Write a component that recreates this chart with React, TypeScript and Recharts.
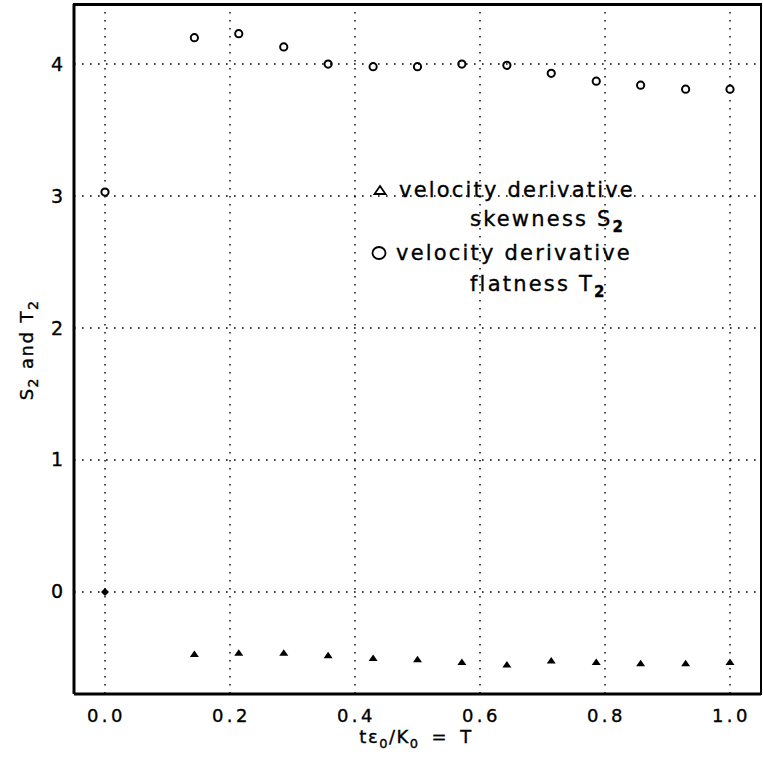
import { CartesianGrid, Scatter, ScatterChart, XAxis, YAxis } from "recharts";

// time T = t*eps0/K0
const tValues = [0, 0.143, 0.214, 0.286, 0.357, 0.429, 0.5, 0.571, 0.643, 0.714, 0.786, 0.857, 0.929, 1.0];
// velocity derivative flatness T2
const flatnessT2 = [3.03, 4.2, 4.23, 4.13, 4.0, 3.98, 3.98, 4.0, 3.99, 3.93, 3.87, 3.84, 3.81, 3.81];
// velocity derivative skewness S2
const skewnessS2 = [0, -0.47, -0.46, -0.46, -0.48, -0.5, -0.51, -0.53, -0.55, -0.52, -0.53, -0.54, -0.54, -0.53];

const xTicks = [0, 0.2, 0.4, 0.6, 0.8, 1.0];
const yTicks = [0, 1, 2, 3, 4];
const xDomain = [-0.0496, 1.0496];
const yDomain = [-0.773, 4.455];

const flatnessData = tValues.map((t, i) => ({ t, v: flatnessT2[i] }));
const skewnessData = tValues.map((t, i) => ({ t, v: skewnessS2[i] }));

const W = 763;
const H = 762;
const FONT = '"DejaVu Sans", sans-serif';
const thick = { stroke: "#000", strokeWidth: 0.35 };

function XTick({ x, y, payload }: any) {
  return (
    <text x={x + 1.5} y={y + 28} textAnchor="middle" fontSize={18} letterSpacing={3.5} fill="#000" {...thick}>
      {Number(payload.value).toFixed(1)}
    </text>
  );
}

function YTick({ x, y, payload }: any) {
  return (
    <text x={x - 11} y={y + 6.5} textAnchor="end" fontSize={19} fill="#000" {...thick}>
      {payload.value}
    </text>
  );
}

function OpenCircle({ cx, cy }: any) {
  return <circle cx={cx} cy={cy} r={3.6} fill="none" stroke="#000" strokeWidth={2} />;
}

function FilledTriangle({ cx, cy, payload }: any) {
  if (payload && payload.t === 0) {
    return <path d={`M${cx},${cy - 4}L${cx + 4},${cy}L${cx},${cy + 4}L${cx - 4},${cy}Z`} fill="#000" />;
  }
  return <path d={`M${cx},${cy - 3.5}L${cx + 4.5},${cy + 3}L${cx - 4.5},${cy + 3}Z`} fill="#000" />;
}

export default function App() {
  return (
    <div style={{ position: "absolute", left: 0, top: 0, width: W, height: H, background: "#fff", fontFamily: FONT }}>
      <ScatterChart width={W} height={H} margin={{ top: 4, right: 2, bottom: 0, left: 0 }}>
        <CartesianGrid stroke="#000" strokeWidth={1.4} strokeDasharray="1.6 6.4" />
        <XAxis
          dataKey="t"
          type="number"
          domain={xDomain}
          ticks={xTicks}
          height={68}
          tickSize={0}
          tickMargin={0}
          tickLine={false}
          tick={<XTick />}
          axisLine={{ stroke: "#000", strokeWidth: 3 }}
          allowDataOverflow
        />
        <YAxis
          dataKey="v"
          type="number"
          domain={yDomain}
          ticks={yTicks}
          width={74}
          tickSize={0}
          tickMargin={0}
          tickLine={false}
          tick={<YTick />}
          axisLine={{ stroke: "#000", strokeWidth: 3 }}
          allowDataOverflow
        />
        <Scatter data={flatnessData} shape={<OpenCircle />} isAnimationActive={false} />
        <Scatter data={skewnessData} shape={<FilledTriangle />} isAnimationActive={false} />
      </ScatterChart>

      <svg
        width={W}
        height={H}
        style={{ position: "absolute", left: 0, top: 0, pointerEvents: "none", fontFamily: FONT }}
      >
        {/* top and right frame of the plot box */}
        <line x1={73} y1={4.5} x2={762} y2={4.5} stroke="#000" strokeWidth={3} />
        <line x1={761} y1={3} x2={761} y2={695} stroke="#000" strokeWidth={2} />

        {/* axis titles */}
        <text x={416} y={743} textAnchor="middle" fontSize={18} letterSpacing={1.5} fill="#000" {...thick}>
          tε<tspan dy={5} fontSize={13}>0</tspan>
          <tspan dy={-5}>/K</tspan>
          <tspan dy={5} fontSize={13}>0</tspan>
          <tspan dy={-5} dx={12}>=</tspan>
          <tspan dx={12}>T</tspan>
        </text>
        <text
          transform="translate(33, 350) rotate(-90)"
          textAnchor="middle"
          fontSize={18}
          letterSpacing={1.5}
          fill="#000"
          {...thick}
        >
          S<tspan dy={5} fontSize={14}>2</tspan>
          <tspan dy={-5} dx={8}>and</tspan>
          <tspan dx={8}>T</tspan>
          <tspan dy={5} fontSize={14}>2</tspan>
        </text>

        {/* legend */}
        <path d="M380,186L385.5,194L374.5,194Z" fill="#fff" stroke="#000" strokeWidth={1.8} />
        <text x={399} y={197} fontSize={21} letterSpacing={2.2} fill="#000" {...thick}>
          velocity derivative
        </text>
        <text x={470} y={226} fontSize={21} letterSpacing={2.2} fill="#000" {...thick}>
          skewness S<tspan dy={6} fontSize={15} fontWeight="bold">2</tspan>
        </text>
        <ellipse cx={379} cy={253} rx={6.5} ry={6} fill="none" stroke="#000" strokeWidth={1.8} />
        <text x={396} y={260} fontSize={21} letterSpacing={2.2} fill="#000" {...thick}>
          velocity derivative
        </text>
        <text x={470} y={291} fontSize={21} letterSpacing={2.2} fill="#000" {...thick}>
          flatness T<tspan dy={6} fontSize={15} fontWeight="bold">2</tspan>
        </text>
      </svg>
    </div>
  );
}
